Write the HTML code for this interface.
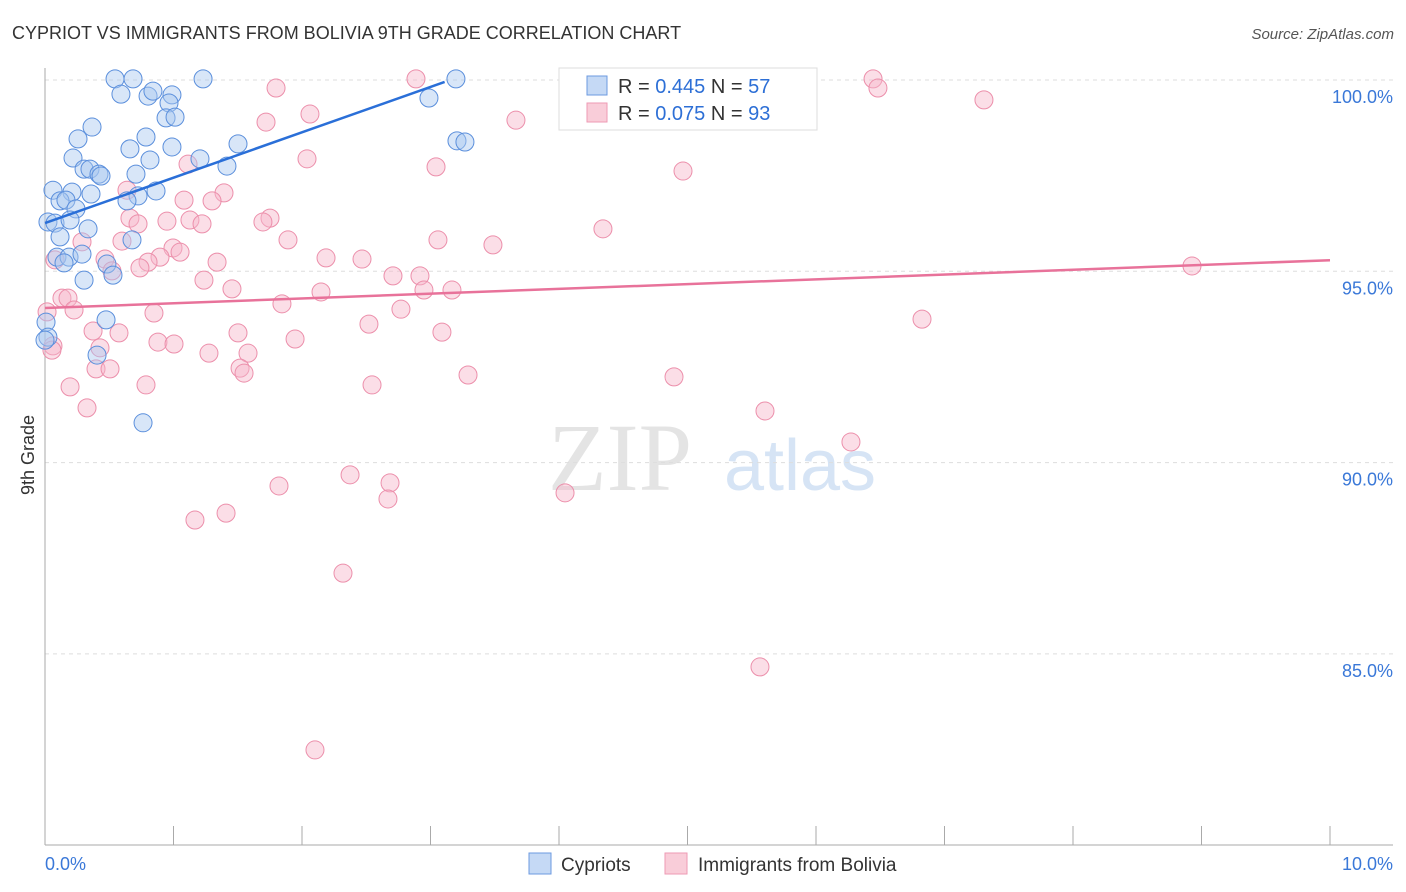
<!DOCTYPE html>
<html><head><meta charset="utf-8">
<style>
body{margin:0;width:1406px;height:892px;background:#fff;font-family:"Liberation Sans",sans-serif;overflow:hidden}
svg{position:absolute;left:0;top:0}
</style></head>
<body>
<svg width="1406" height="892" id="chart">
<text x="12" y="39" font-size="18" fill="#333">CYPRIOT VS IMMIGRANTS FROM BOLIVIA 9TH GRADE CORRELATION CHART</text>
<text x="1394" y="39" font-size="15" fill="#555" font-style="italic" text-anchor="end">Source: ZipAtlas.com</text>
<text x="620" y="490" font-size="96" fill="#e4e4e4" font-family="Liberation Serif,serif" text-anchor="middle">ZIP</text>
<text x="800" y="490" font-size="72" fill="#d6e4f5" text-anchor="middle">atlas</text>
<g id="grid"></g>
<g id="axes"></g>
<g id="pts"></g>
<g id="lines"></g>
<text transform="translate(34,455) rotate(-90)" font-size="18" fill="#333" text-anchor="middle">9th Grade</text>
<g>
<rect x="559" y="68" width="258" height="62" fill="#fff" stroke="#ddd"/>
<rect x="587" y="76" width="20" height="19" fill="#c5d9f5" stroke="#6c9ae0"/>
<rect x="587" y="103" width="20" height="19" fill="#f9cdd9" stroke="#ee9ab4"/>
<text x="618" y="93" font-size="20" fill="#333">R = <tspan fill="#2d6fd6">0.445</tspan>   N = <tspan fill="#2d6fd6">57</tspan></text>
<text x="618" y="120" font-size="20" fill="#333">R = <tspan fill="#2d6fd6">0.075</tspan>   N = <tspan fill="#2d6fd6">93</tspan></text>
</g>
<g>
<rect x="529" y="853" width="22" height="21" fill="#c5d9f5" stroke="#6c9ae0"/>
<text x="561" y="871" font-size="19" fill="#333">Cypriots</text>
<rect x="665" y="853" width="22" height="21" fill="#f9cdd9" stroke="#ee9ab4"/>
<text x="698" y="871" font-size="19" fill="#333">Immigrants from Bolivia</text>
</g>
<text x="45" y="870" font-size="18" fill="#3a78d8">0.0%</text>
<text x="1393" y="870" font-size="18" fill="#3a78d8" text-anchor="end">10.0%</text>
</svg>
<script>
const yTicks=[100,95,90,85];
const xTicks=[0,1,2,3,4,5,6,7,8,9,10];
const bluePx=[[115,79],[133,79],[203,79],[456,79],[121,94],[148,96],[153,91],[172,95],[169,103],[429,98],[166,118],[175,117],[92,127],[78,139],[146,137],[238,144],[457,141],[465,142],[130,149],[172,147],[73,158],[150,160],[200,159],[227,166],[84,169],[90,169],[99,174],[101,176],[136,174],[53,190],[72,192],[91,194],[156,191],[138,196],[127,201],[60,201],[66,200],[48,222],[55,223],[76,209],[70,220],[88,229],[60,237],[132,240],[57,257],[69,257],[82,254],[64,263],[107,264],[113,275],[84,280],[106,320],[46,322],[48,337],[97,355],[143,423],[45,340]];
const pinkPx=[[416,79],[570,79],[873,79],[878,88],[276,88],[984,100],[310,114],[266,122],[516,120],[307,159],[436,167],[683,171],[188,164],[127,190],[224,193],[184,200],[212,201],[270,218],[190,220],[167,221],[130,218],[138,224],[202,224],[263,222],[603,229],[82,242],[122,241],[288,240],[438,240],[493,245],[173,248],[180,252],[55,260],[105,259],[160,257],[148,262],[217,262],[326,258],[362,259],[112,271],[140,268],[393,276],[420,276],[204,280],[232,289],[321,292],[424,290],[452,290],[62,298],[68,298],[282,304],[401,309],[47,312],[74,310],[154,313],[1192,266],[922,319],[369,324],[93,331],[119,333],[238,333],[442,332],[53,346],[158,342],[174,344],[295,339],[100,348],[209,353],[248,353],[96,369],[110,369],[240,368],[244,373],[468,375],[674,377],[70,387],[146,385],[372,385],[87,408],[765,411],[851,442],[350,475],[279,486],[390,483],[388,499],[565,493],[226,513],[195,520],[343,573],[760,667],[315,750],[52,350]];
// convert picture-read positions into data values (x in %, y in %)
const blueX=bluePx.map(p=>+((p[0]-45)/128.5).toFixed(3));
const blueY=bluePx.map(p=>+(100-(p[1]-80)/38.26).toFixed(2));
const pinkX=pinkPx.map(p=>+((p[0]-45)/128.5).toFixed(3));
const pinkY=pinkPx.map(p=>+(100-(p[1]-80)/38.26).toFixed(2));
const blueTrend=[[0,96.26],[3.11,99.95]];
const pinkTrend=[[0,94.04],[10,95.29]];
const X=v=>45+v*128.5, Y=v=>80+(100-v)*38.26;
const NS='http://www.w3.org/2000/svg';
function mk(t,a,p){const e=document.createElementNS(NS,t);for(const k in a)e.setAttribute(k,a[k]);p.appendChild(e);return e;}
const grid=document.getElementById('grid'),axes=document.getElementById('axes'),pts=document.getElementById('pts'),lines=document.getElementById('lines');
yTicks.forEach(v=>{
 const l=mk('line',{x1:45,x2:1393,y1:Y(v),y2:Y(v),stroke:'#ddd','stroke-dasharray':'4,4'},grid);
 
 
 const t=mk('text',{x:1393,y:Y(v)+23,'font-size':18,fill:'#3a78d8','text-anchor':'end'},grid);
 t.textContent=v.toFixed(1)+'%';
 
 
});
const ax=mk('line',{x1:45,x2:45,y1:68,y2:845,stroke:'#aaa'},axes);


const bx=mk('line',{x1:45,x2:1393,y1:845,y2:845,stroke:'#aaa'},axes);


xTicks.forEach(v=>{
 const t=mk('line',{x1:X(v),x2:X(v),y1:826,y2:845,stroke:'#aaa'},axes);
 
 
});
function dots(xs,ys,fill,stroke,name){
 xs.forEach((x,i)=>{
  const c=mk('circle',{cx:X(x),cy:Y(ys[i]),r:9,fill:fill,stroke:stroke,'stroke-width':1,'fill-opacity':0.45},pts);
  
  
 });
}
dots(pinkX,pinkY,'#f7b6c9','#ec8fab','bolivia-point');
dots(blueX,blueY,'#a9c7f0','#5b8fdc','cypriot-point');
const lb=mk('line',{x1:X(blueTrend[0][0]),y1:Y(blueTrend[0][1]),x2:X(blueTrend[1][0]),y2:Y(blueTrend[1][1]),stroke:'#2a6fd8','stroke-width':2.5},lines);


const lp=mk('line',{x1:X(pinkTrend[0][0]),y1:Y(pinkTrend[0][1]),x2:X(pinkTrend[1][0]),y2:Y(pinkTrend[1][1]),stroke:'#e8729a','stroke-width':2.5},lines);


</script>
</body></html>
